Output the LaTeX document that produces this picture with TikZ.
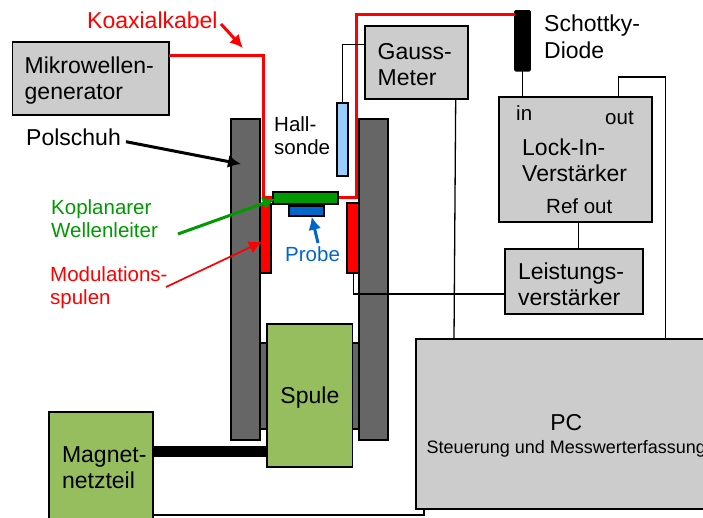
\documentclass[tikz,border=0pt]{standalone}
\usepackage{fontspec}
\setmainfont{Liberation Sans}
\usepackage{xcolor}
\usetikzlibrary{arrows.meta,positioning,calc}
\definecolor{FMRgray}{RGB}{204,204,204}
\definecolor{FMRpole}{RGB}{102,102,102}
\definecolor{FMRcoil}{RGB}{150,190,95}
\definecolor{FMRred}{RGB}{255,0,0}
\definecolor{FMRgreen}{RGB}{0,153,0}
\definecolor{FMRblue}{RGB}{0,102,204}
\definecolor{FMRhall}{RGB}{153,204,255}
\newcommand{\Lfont}{\fontsize{23}{26.2}\selectfont}
\newcommand{\Sfont}{\fontsize{20.5}{22.4}\selectfont}
\newcommand{\Tdown}[1]{\rule{0pt}{#1pt}}
\tikzstyle{pbox}  = [rectangle, draw=black, line width=1.8pt, inner sep=0pt, outer sep=0pt,
                     align=left, font=\Lfont]
\tikzstyle{Bgray} = [pbox, fill=FMRgray]
\tikzstyle{Bcoil} = [pbox, fill=FMRcoil]
\tikzstyle{Bpole} = [pbox, fill=FMRpole]
\tikzstyle{Bmod}  = [pbox, fill=FMRred]
\tikzstyle{Blab}  = [inner sep=0pt, align=left, anchor=base west, font=\Lfont]
\tikzstyle{Bsma}  = [Blab, font=\Sfont]
\tikzstyle{wire}  = [line width=1.3pt, black]
\tikzstyle{koax}  = [line width=3pt, FMRred]
\tikzstyle{pfeil} = [-{Latex[length=13pt,width=13pt]}]

\begin{document}
\begin{tikzpicture}[x=1pt, y=-1pt]
  \useasboundingbox (0,0) rectangle (703,517);

  \node[Bpole, minimum width=100pt, minimum height=86pt] (joch) at (309.5,386.3) {};
  \node[Bpole, minimum width=29pt, minimum height=320.7pt] (polL) at (245.2,279.6) {};
  \node[Bpole, minimum width=29pt, minimum height=320.7pt] (polR) at (373.8,279.6) {};
  \node[Bcoil, minimum width=85.2pt, minimum height=143.3pt, align=center] (spule) at (309.9,395.6) {\Tdown{20}Spule};
  \node[Bcoil, minimum width=103.7pt, minimum height=111pt, text width=91pt, inner xsep=6.35pt] (netz) at (101.2,467.8) {\hspace*{6.35pt}Magnet-\\\hspace*{6.35pt}netzteil};

  \node[Bgray, minimum width=156.5pt, minimum height=72.5pt, text width=132pt, inner xsep=12.2pt] (mikro) at (90.7,78.5) {\Tdown{21}Mikrowellen-\\generator};
  \node[Bgray, minimum width=103.3pt, minimum height=72.4pt, text width=78pt, inner xsep=12.6pt] (gauss) at (416.7,62.5) {\Tdown{20}Gauss-\\Meter};
  \node[Bgray, minimum width=152.7pt, minimum height=125pt] (lockin) at (575.7,159.2) {};
  \node[Bgray, below=27.6pt of lockin, xshift=-1.7pt, minimum width=138pt, minimum height=64.7pt, text width=112pt, inner xsep=13pt] (leist) {\Tdown{22}Leistungs-\\verstärker};
  \node[Bgray, minimum width=300.3pt, minimum height=170pt] (pc) at (565.8,424.3) {};

  \node[pbox, fill=black, rounded corners=1pt, minimum width=15pt, minimum height=59.7pt] (diode) at (522.5,40.8) {};
  \node[pbox, fill=FMRhall, minimum width=10.7pt, minimum height=73pt] (hall) at (342.3,139.2) {};
  \node[Bmod, minimum width=11pt, minimum height=69pt] (modL) at (265.5,238.2) {};
  \node[Bmod, minimum width=11.4pt, minimum height=70pt] (modR) at (353,237.7) {};

  \coordinate (kA) at (263.3,55.7);
  \coordinate (kB) at (263.3,197.5);
  \coordinate (kC) at (356,197.5);
  \coordinate (kD) at (356,14);
  \draw[koax] (mikro.east |- kA) -- (kA) -- (kB) -- (kC) -- (kD) -- (diode.west |- kD);

  \node[pbox, fill=FMRgreen, minimum width=65pt, minimum height=12.3pt] (wl) at (305.5,197.8) {};
  \node[pbox, fill=FMRblue, minimum width=35pt, minimum height=10.3pt] (probe) at (306.5,211.2) {};

  \coordinate (hA) at (342.7,44.5);
  \coordinate (oA) at (618.7,77);
  \coordinate (oB) at (665.7,77);
  \coordinate (gA) at (455.7,0);
  \coordinate (gB) at (454,0);
  \coordinate (lA) at (353.3,294);
  \coordinate (nA) at (423.8,515);
  \draw[wire] (gauss.west |- hA) -- (hA) -- (hall.north -| hA);
  \draw[wire] (gauss.south -| gA) -- (pc.north -| gB);
  \draw[wire] (diode.south) -- (lockin.north -| diode.south);
  \draw[wire] (lockin.north -| oA) -- (oA) -- (oB) -- (pc.north -| oB);
  \draw[wire] (lockin.south -| 578.3,0) -- (leist.north -| 578.3,0);
  \draw[wire] (leist.west |- lA) -- (lA) -- (modR.south -| lA);
  \draw[line width=1.8pt] (netz.east |- nA) -- (nA) -- (pc.south -| nA);
  \draw[line width=11pt] (netz.east |- 0,451.2) -- (spule.west |- 0,451.2);

  \node[Blab] (lockintxt) at (522,181.7) {Lock-In-\\Verstärker};
  \node[Bsma] (intxt) at (516,120.7) {in};
  \node[Bsma] (outtxt) at (605,124) {out};
  \node[Bsma] (reftxt) at (546,213) {Ref out};
  \node[Blab, align=center, anchor=center] (pctxt) at ([yshift=-11.5pt,xshift=0.5pt]pc.center) {PC\\[-3pt]{\fontsize{18}{20}\selectfont Steuerung und Messwerterfassung}};
  \node[Blab] (schottky) at (544,58) {Schottky-\\Diode};
  \node[Bsma] (halltxt) at (274,154) {Hall-\\sonde};

  \node[Blab, text=FMRred] (koaxtxt) at (87,28) {Koaxialkabel};
  \node[Blab] (poltxt) at (26,145.5) {Polschuh};
  \node[Bsma, text=FMRgreen] (wltxt) at (51,237) {Koplanarer\\Wellenleiter};
  \node[Bsma, text=FMRred] (modtxt) at (50,304) {Modulations-\\spulen};
  \node[Bsma, text=FMRblue] (probetxt) at (285,261.7) {Probe};

  \coordinate (koaxS) at (221,24);
  \coordinate (koaxE) at (243,48);
  \coordinate (polS) at (126,141.7);
  \coordinate (polE) at (241,164);
  \coordinate (wlS) at (178,234);
  \coordinate (wlE) at (275.5,199);
  \coordinate (modS) at (166,287);
  \coordinate (modE) at (262,241.7);
  \coordinate (probeS) at (318,243);
  \coordinate (probeE) at (311.7,216.7);
  \draw[pfeil, FMRred, line width=3pt] (koaxS) -- (koaxE);
  \draw[pfeil, black, line width=3pt] (polS) -- (polE);
  \draw[pfeil, FMRgreen, line width=3pt] (wlS) -- (wlE);
  \draw[pfeil, FMRred, line width=1.7pt] (modS) -- (modE);
  \draw[pfeil, FMRblue, line width=3pt] (probeS) -- (probeE);
\end{tikzpicture}
\end{document}
